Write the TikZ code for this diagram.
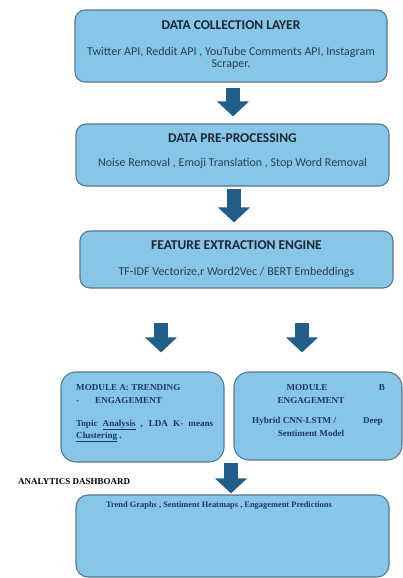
\documentclass[tikz,border=0pt]{standalone}
\usepackage{fontspec}
\setmainfont{Carlito}
\newfontfamily\serifb{Liberation Serif}
\usetikzlibrary{arrows.meta}
\definecolor{boxfill}{HTML}{88C6E8}
\definecolor{boxline}{HTML}{56788E}
\definecolor{arrowc}{HTML}{215E8A}
\definecolor{headc}{HTML}{1C2733}
\definecolor{bodyc}{HTML}{2A3E54}
\definecolor{modc}{HTML}{1F3766}
\tikzset{
  layerbox/.style={draw=boxline, line width=1.1pt, fill=boxfill, rounded corners=10pt, inner sep=0pt},
  modbox/.style={draw=boxline, line width=1.1pt, fill=boxfill, rounded corners=15pt, inner sep=0pt},
  headtxt/.style={font=\fontsize{13.5}{15}\selectfont\bfseries, text=headc, inner sep=0pt},
  bodytxt/.style={font=\fontsize{12}{14}\selectfont, text=bodyc, inner sep=0pt},
  modtxt/.style={font=\serifb\fontsize{9.1}{11}\selectfont\bfseries, text=modc, inner sep=0pt, anchor=base west},
  dashtxt/.style={font=\serifb\fontsize{8.4}{10}\selectfont\bfseries, text=modc, inner sep=0pt},
  blockarrow/.style={draw=arrowc, line width=14pt, -{Triangle[width=31pt,length=15pt]}}
}
\begin{document}
\begin{tikzpicture}[x=1pt,y=-1pt]
\useasboundingbox (0,0) rectangle (403,578);
% boxes
\node[layerbox, minimum width=312pt, minimum height=72pt] (b1) at (231,46) {};
\node[layerbox, minimum width=313pt, minimum height=62pt] (b2) at (232.5,155) {};
\node[layerbox, minimum width=313pt, minimum height=57pt] (b3) at (236.5,259.5) {};
\node[modbox, minimum width=163pt, minimum height=90pt] (ma) at (142.5,417) {};
\node[modbox, minimum width=168pt, minimum height=88pt] (mb) at (318,416) {};
\node[modbox, rounded corners=12pt, minimum width=313pt, minimum height=82pt] (db) at (232.5,536) {};
% texts
\node[headtxt] (h1) at (231,25) {DATA COLLECTION LAYER};
\node[bodytxt] (t1a) at (231,52) {Twitter API, Reddit API , YouTube Comments API, Instagram};
\node[bodytxt] (t1b) at (231,65) {Scraper.};
\node[headtxt] (h2) at (232.5,138) {DATA PRE-PROCESSING};
\node[bodytxt] (t2) at (232.5,163) {Noise Removal , Emoji Translation , Stop Word Removal};
\node[headtxt] (h3) at (236.5,245) {FEATURE EXTRACTION ENGINE};
\node[bodytxt] (t3) at (236.5,272) {TF-IDF Vectorize,r Word2Vec / BERT Embeddings};
% module A
\node[modtxt] (ma1) at (76,390) {MODULE A: TRENDING};
\node[modtxt] (ma2) at (76,403) {-};
\node[modtxt] (ma2b) at (95,403) {ENGAGEMENT};
\node[modtxt] (ma3) at (76,426) {\makebox[137pt][s]{Topic \underline{Analysis} , LDA K- means}};
\node[modtxt] (ma4) at (76,438) {\underline{Clustering} .};
% module B
\node[modtxt, anchor=base] (mb1) at (307,390) {MODULE};
\node[modtxt, anchor=base] (mb1b) at (382,390) {B};
\node[modtxt, anchor=base] (mb2) at (311,403) {ENGAGEMENT};
\node[modtxt] (mb3) at (252,423) {Hybrid CNN-LSTM /};
\node[modtxt, anchor=base east] (mb3b) at (383,423) {Deep};
\node[modtxt, anchor=base] (mb4) at (311,436) {Sentiment Model};
% dashboard
\node[font=\serifb\fontsize{9}{11}\selectfont\bfseries, inner sep=0pt, anchor=west] (dl) at (18,482) {ANALYTICS DASHBOARD};
\node[dashtxt] (dt) at (219,506) {Trend Graphs , Sentiment Heatmaps , Engagement Predictions};
% arrows
\coordinate (a3s) at (161,323);
\coordinate (a4s) at (302,323);
\coordinate (a5s) at (231,463);
\draw[blockarrow, shorten <=5pt, shorten >=7pt] (b1.south -| 233,0) -- (b2.north -| 233,0);
\draw[blockarrow, shorten <=2pt, shorten >=8pt] (b2.south -| 234,0) -- (b3.north -| 234,0);
\draw[blockarrow, shorten >=19pt] (a3s) -- (ma.north -| a3s);
\draw[blockarrow, shorten >=19pt] (a4s) -- (mb.north -| a4s);
\draw[blockarrow, shorten <=0pt, shorten >=1pt] (a5s) -- (db.north -| a5s);
\end{tikzpicture}
\end{document}
